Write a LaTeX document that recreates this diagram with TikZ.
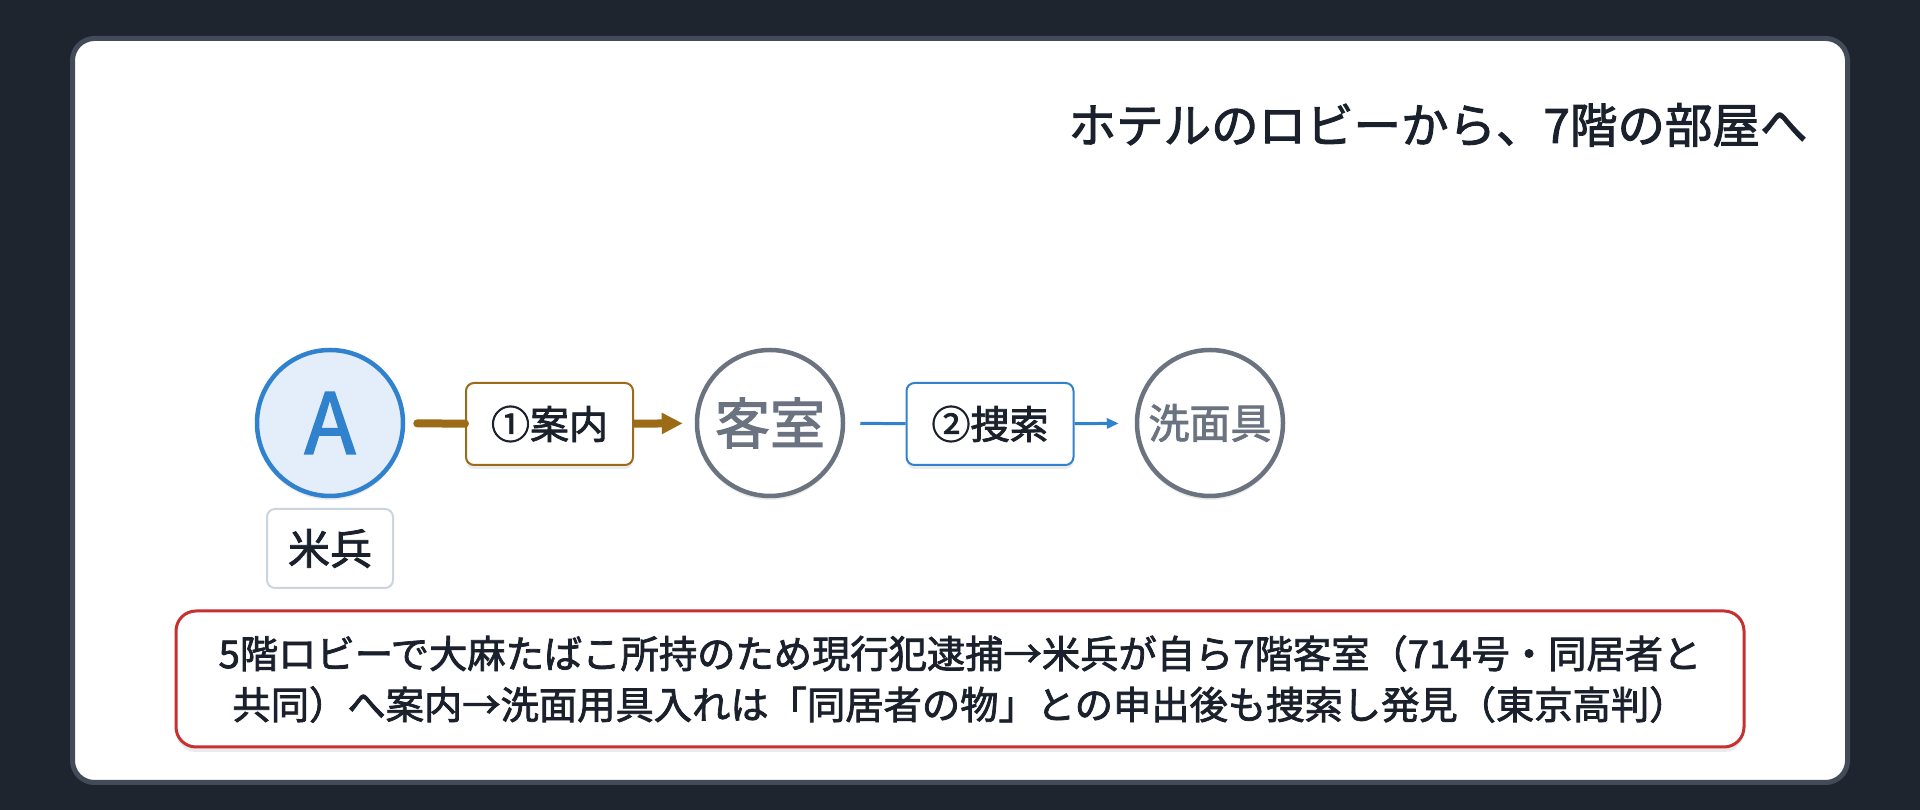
\documentclass[tikz,border=0pt]{standalone}
\usepackage{fontspec}
\setmainfont{Noto Sans CJK JP}[FakeBold=2]
\usetikzlibrary{arrows.meta,shadows}
\definecolor{bgdark}{HTML}{1E252F}
\definecolor{cardedge}{HTML}{434B5A}
\definecolor{inkdark}{HTML}{1A202C}
\definecolor{slategray}{HTML}{6B7280}
\definecolor{actorblue}{HTML}{3182CE}
\definecolor{actorfill}{HTML}{E3EEFA}
\definecolor{leadbrown}{HTML}{9C6B17}
\definecolor{tagedge}{HTML}{CBD5E0}
\definecolor{notered}{HTML}{C53030}

\begin{document}
\begin{tikzpicture}[x=1pt, y=1pt,
  spot/.style={circle, draw=slategray, fill=white, line width=4.5pt,
    minimum size=146pt, inner sep=0pt, text=slategray,
    drop shadow={shadow xshift=0pt, shadow yshift=-4pt, opacity=0.08, fill=black}},
  stepbox/.style={draw, fill=white, rounded corners=8pt, line width=2pt,
    minimum width=167pt, minimum height=82pt, text=inkdark,
    font=\fontsize{39}{47}\selectfont,
    drop shadow={shadow xshift=0pt, shadow yshift=-4pt, opacity=0.08, fill=black}}]
  % background and card
  \useasboundingbox (0,0) rectangle (1920,810);
  \fill[bgdark] (0,0) rectangle (1920,810);
  \draw[cardedge, fill=white, line width=5pt, rounded corners=22pt]
    (72.5,27.5) rectangle (1847.5,771.5);

  % title
  \node[anchor=east, text=inkdark, font=\fontsize{47.5}{56}\selectfont]
    (title) at (1811,685) {ホテルのロビーから、7階の部屋へ};

  % actor and places
  \node[spot, draw=actorblue, fill=actorfill, text=actorblue,
    font=\fontsize{84}{90}\selectfont] (actor) at (330,387) {A};
  \node[spot, font=\fontsize{55}{60}\selectfont] (room) at (770,387) {客室};
  \node[spot, font=\fontsize{41}{48}\selectfont] (kit) at (1210,387) {洗面具};

  % actor tag
  \node[draw=tagedge, fill=white, rounded corners=8pt, line width=2pt,
    minimum width=126pt, minimum height=79pt, text=inkdark,
    font=\fontsize{42}{50}\selectfont] (tag) at (330,261.5) {米兵};

  % steps
  \node[stepbox, draw=leadbrown] (lead) at (549.5,386) {①案内};
  \node[stepbox, draw=actorblue] (search) at (990,386) {②捜索};

  \draw[leadbrown, line width=8pt, line cap=round, shorten <=12pt] (actor) -- (lead);
  \draw[leadbrown, line width=8pt, -{Triangle[length=21pt, width=20pt]},
    shorten >=12pt] (lead) -- (room);
  \draw[actorblue, line width=3pt, shorten <=15pt] (room) -- (search);
  \draw[actorblue, line width=3pt, -{Triangle[length=12pt, width=10pt]},
    shorten >=16pt] (search) -- (kit);

  % note
  \node[draw=notered, fill=white, rounded corners=20pt, line width=3pt,
    minimum width=1568pt, minimum height=136pt, align=center, text=inkdark,
    font=\fontsize{38.3}{51}\selectfont,
    drop shadow={shadow xshift=0pt, shadow yshift=-5pt, opacity=0.08, fill=black}]
    (note) at (960,131)
    {5階ロビーで大麻たばこ所持のため現行犯逮捕→米兵が自ら7階客室（714号・同居者と\\
     共同）へ案内→洗面用具入れは「同居者の物」との申出後も捜索し発見（東京高判）};
\end{tikzpicture}
\end{document}
